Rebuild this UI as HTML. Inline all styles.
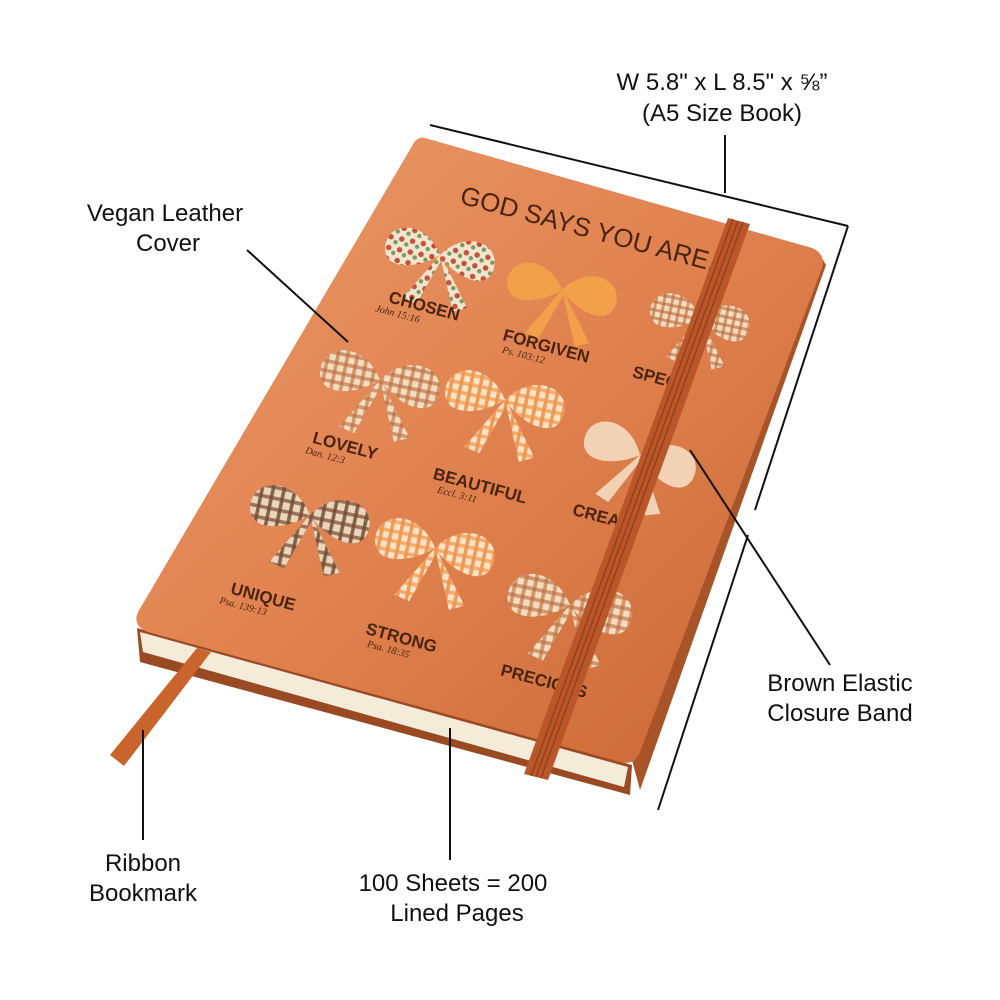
<!DOCTYPE html>
<html><head><meta charset="utf-8"><style>
html,body{margin:0;padding:0;background:#fff;}
svg{display:block}
.lb{font-family:"Liberation Sans",sans-serif;font-size:24px;fill:#111;text-anchor:middle}
.w{font-family:"Liberation Sans",sans-serif;font-size:17px;fill:#4a2410;font-weight:bold}
.s{font-family:"Liberation Serif",serif;font-size:10px;fill:#4a2410;font-style:italic}
</style></head><body>
<svg width="1000" height="1000" viewBox="0 0 1000 1000" xmlns="http://www.w3.org/2000/svg">
<defs>
<linearGradient id="cv" x1="0" y1="0" x2="1" y2="1">
<stop offset="0" stop-color="#eb9a6a"/><stop offset="0.5" stop-color="#e0824f"/><stop offset="1" stop-color="#c86634"/>
</linearGradient>
<pattern id="pl" width="8" height="8" patternUnits="userSpaceOnUse">
<rect width="8" height="8" fill="#f3dcc0"/><rect width="3" height="8" fill="#c77a48" opacity=".7"/><rect width="8" height="3" fill="#b8683a" opacity=".6"/>
</pattern>
<pattern id="pb" width="9" height="9" patternUnits="userSpaceOnUse">
<rect width="9" height="9" fill="#e9d6bd"/><rect width="3" height="9" fill="#6b4530" opacity=".8"/><rect width="9" height="3" fill="#7a4a30" opacity=".7"/>
</pattern>
<pattern id="po" width="8" height="8" patternUnits="userSpaceOnUse">
<rect width="8" height="8" fill="#fbe3c8"/><rect width="3" height="8" fill="#ee8a3c" opacity=".8"/><rect width="8" height="3" fill="#f0964a" opacity=".7"/>
</pattern>
<pattern id="fl" width="10" height="10" patternUnits="userSpaceOnUse">
<rect width="10" height="10" fill="#efe6cf"/><circle cx="3" cy="3" r="2.5" fill="#c8503a"/><circle cx="8" cy="7" r="2" fill="#7a9a5a"/>
</pattern>
<g id="bow">
<path d="M0 0 C-20 -30 -55 -20 -50 5 C-45 25 -15 15 0 0 Z"/>
<path d="M0 0 C20 -30 55 -20 50 5 C45 25 15 15 0 0 Z"/>
<path d="M0 0 L-25 45 L-12 48 L2 5 Z"/>
<path d="M0 0 L22 48 L34 42 L4 4 Z"/>
</g>
</defs>
<path d="M137 628 L632 765 L630 795 L140 662 Z" fill="#9a4a22"/>
<path d="M140 632 L628 767 L624 787 L143 652 Z" fill="#f4ecd8"/>
<path d="M632 760 L820 255 L826 265 L640 790 Z" fill="#a85428"/>
<path d="M425 138 L812 248 Q826 254 822 268 L640 752 Q634 766 620 762 L148 632 Q132 626 138 612 L412 146 Q417 136 425 138 Z" fill="url(#cv)"/>
<path d="M197 648 L211 652 L124 766 L110 755 Z" fill="#c8642c"/>
<g transform="rotate(15 590 230)"><text x="588" y="238" text-anchor="middle" style="font-family:'Liberation Sans',sans-serif;font-size:26px;fill:#4a2410">GOD SAYS YOU ARE.</text></g>
<g fill="url(#fl)" transform="translate(440,255) rotate(12) scale(1.1)"><use href="#bow"/></g>
<g fill="#f3a04a" transform="translate(562,290) rotate(12) scale(1.1)"><use href="#bow"/></g>
<g fill="url(#pl)" transform="translate(700,318) rotate(12)"><use href="#bow"/></g>
<g fill="url(#pl)" transform="translate(380,380) rotate(12) scale(1.2)"><use href="#bow"/></g>
<g fill="url(#po)" transform="translate(505,400) rotate(12) scale(1.2)"><use href="#bow"/></g>
<g fill="#f1d2b5" transform="translate(640,455) rotate(20) scale(1.15)"><use href="#bow"/></g>
<g fill="url(#pb)" transform="translate(310,515) rotate(12) scale(1.2)"><use href="#bow"/></g>
<g fill="url(#po)" transform="translate(435,548) rotate(12) scale(1.2)"><use href="#bow"/></g>
<g fill="url(#pl)" transform="translate(570,605) rotate(12) scale(1.25)"><use href="#bow"/></g>
<g transform="rotate(15 418 305)"><text class="w" x="388" y="310">CHOSEN</text><text class="s" x="378" y="322">John 15:16</text></g>
<g transform="rotate(15 540 345)"><text class="w" x="502" y="350">FORGIVEN</text><text class="s" x="505" y="362">Ps. 103:12</text></g>
<g transform="rotate(15 655 378)"><text class="w" x="632" y="383">SPEC</text></g>
<g transform="rotate(15 340 445)"><text class="w" x="312" y="450">LOVELY</text><text class="s" x="308" y="462">Dan. 12:3</text></g>
<g transform="rotate(15 475 485)"><text class="w" x="432" y="490">BEAUTIFUL</text><text class="s" x="440" y="502">Eccl. 3:11</text></g>
<g transform="rotate(15 600 517)"><text class="w" x="572" y="522">CREA</text></g>
<g transform="rotate(15 262 597)"><text class="w" x="230" y="602">UNIQUE</text><text class="s" x="222" y="614">Psa. 139:13</text></g>
<g transform="rotate(15 400 638)"><text class="w" x="365" y="643">STRONG</text><text class="s" x="370" y="655">Psa. 18:35</text></g>
<g transform="rotate(15 530 678)"><text class="w" x="500" y="683">PRECIOUS</text></g>
<path d="M728 218 L750 224 L548 780 L524 774 Z" fill="#b9572a"/>
<path d="M733 219 L531 776 M738 221 L536 777 M743 222 L541 778" stroke="#8f3c18" stroke-width="1.2"/>
<g stroke="#111" stroke-width="2" fill="none">
<line x1="430" y1="125" x2="848" y2="226"/>
<line x1="848" y1="226" x2="755" y2="510"/>
<line x1="748" y1="535" x2="658" y2="810"/>
<line x1="725" y1="135" x2="725" y2="193"/>
<line x1="247" y1="250" x2="348" y2="342"/>
<line x1="690" y1="450" x2="830" y2="665"/>
<line x1="143" y1="730" x2="143" y2="840"/>
<line x1="450" y1="728" x2="450" y2="860"/>
</g>
<text class="lb" x="722" y="90">W 5.8" x L 8.5" x ⅝”</text>
<text class="lb" x="722" y="121">(A5 Size Book)</text>
<text class="lb" x="165" y="221">Vegan Leather</text>
<text class="lb" x="168" y="251">Cover</text>
<text class="lb" x="840" y="691">Brown Elastic</text>
<text class="lb" x="840" y="721">Closure Band</text>
<text class="lb" x="143" y="871">Ribbon</text>
<text class="lb" x="143" y="901">Bookmark</text>
<text class="lb" x="453" y="891">100 Sheets = 200</text>
<text class="lb" x="457" y="921">Lined Pages</text>
</svg>
</body></html>
